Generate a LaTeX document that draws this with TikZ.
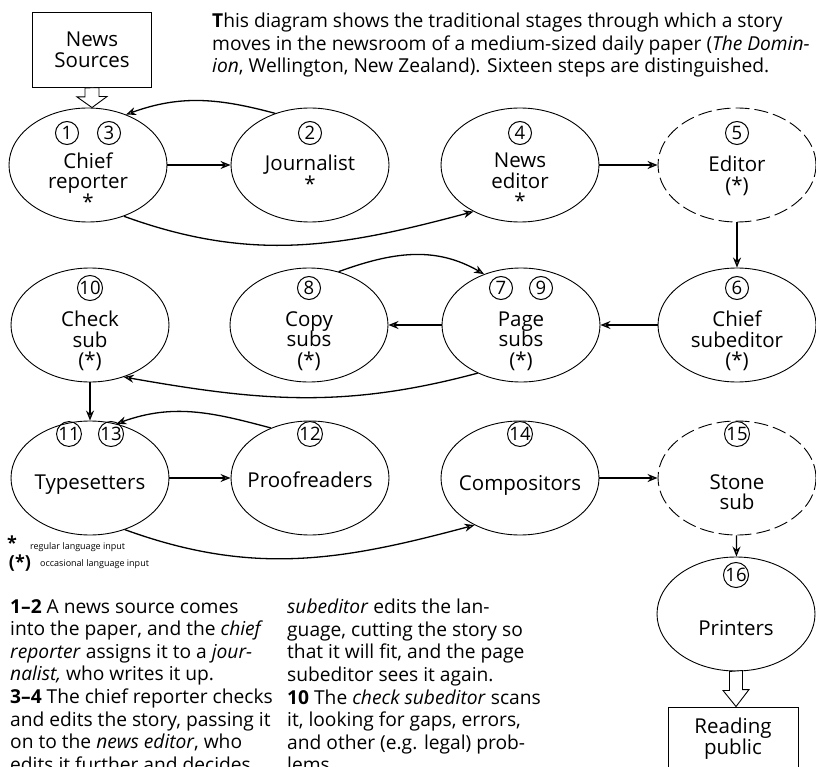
\documentclass[tikz,border=0pt]{standalone}
\usepackage{fontspec}
\setmainfont{Open Sans}
\usetikzlibrary{arrows.meta,shapes.geometric,calc}
\tikzset{
  stage/.style={draw, ellipse, line width=0.9pt, minimum width=158pt, minimum height=114pt, inner sep=0pt},
  stagedash/.style={stage, dash pattern=on 14pt off 5pt},
  num/.style={draw, circle, line width=1pt, minimum size=23pt, inner sep=0pt, font=\fontsize{18.5}{18.5}\selectfont},
  lbl/.style={align=center, inner sep=0pt, font=\fontsize{20.5}{20.5}\selectfont},
  flow/.style={line width=1.3pt, -{Stealth[open,length=10pt,width=8pt]}},
  boxed/.style={draw, line width=0.9pt, minimum width=119pt, minimum height=75pt, align=center, font=\fontsize{20.5}{21}\selectfont},
  hollow/.style={draw, line width=0.9pt, fill=white, line join=miter},
  para/.style={align=left, anchor=north west, inner sep=0pt, font=\fontsize{19.2}{22.6}\selectfont},
  keytext/.style={anchor=west, inner sep=0pt, font=\fontsize{9}{9}\selectfont},
}

\begin{document}
\begin{tikzpicture}[x=1pt, y=-1pt]
\useasboundingbox (0,0) rectangle (816,767);
\clip (0,0) rectangle (816,767);

% heading text
\node[para] (intro) at (212,13) {\textbf{T}his diagram shows the traditional stages through which a story\\
moves in the newsroom of a medium-sized daily paper (\textit{The Domin-}\\
\textit{ion}, Wellington, New Zealand). Sixteen steps are distinguished.};

% stages, row by row
\node[stage] (cr) at (88,165) {};
\node[stage] (jo) at (310,165) {};
\node[stage] (ne) at (520,165) {};
\node[stagedash] (ed) at (737,165) {};

\node[stage] (cs) at (90,325) {};
\node[stage] (cp) at (309,325) {};
\node[stage] (ps) at (521,325) {};
\node[stage] (csub) at (737,325) {};

\node[stage] (ty) at (90,478) {};
\node[stage] (pr) at (310,478) {};
\node[stage] (co) at (520,478) {};
\node[stagedash] (st) at (737,478) {};

\node[stage] (pt) at (736,614) {};

% names
\node[lbl] (crt) at ($(cr)+(0,16)$) {Chief\\reporter\\*};
\node[lbl] (jot) at ($(jo)+(0,8)$) {Journalist\\*};
\node[lbl] (net) at ($(ne)+(0,16)$) {News\\editor\\*};
\node[lbl] (edt) at ($(ed)+(0,11)$) {Editor\\(*)};
\node[lbl] (cst) at ($(cs)+(0,16)$) {Check\\sub\\(*)};
\node[lbl] (cpt) at ($(cp)+(0,16)$) {Copy\\subs\\(*)};
\node[lbl] (pst) at ($(ps)+(0,16)$) {Page\\subs\\(*)};
\node[lbl] (csubt) at ($(csub)+(0,16)$) {Chief\\subeditor\\(*)};
\node[lbl] (tyt) at ($(ty)+(0,7)$) {Typesetters};
\node[lbl] (prt) at ($(pr)+(0,2)$) {Proofreaders};
\node[lbl] (cot) at ($(co)+(0,7)$) {Compositors};
\node[lbl] (stt) at ($(st)+(0,14)$) {Stone\\sub};
\node[lbl] (ptt) at ($(pt)+(0,14)$) {Printers};

% step numbers
\node[num] (n1) at ($(cr)+(-21,-32)$) {1};
\node[num] (n3) at ($(cr)+(21,-32)$) {3};
\node[num] (n2) at ($(jo)+(0,-32)$) {2};
\node[num] (n4) at ($(ne)+(0,-32)$) {4};
\node[num] (n5) at ($(ed)+(0,-32)$) {5};
\node[num] (n10) at ($(cs)+(0,-37)$) {10};
\node[num] (n8) at ($(cp)+(0,-37)$) {8};
\node[num] (n7) at ($(ps)+(-20,-37)$) {7};
\node[num] (n9) at ($(ps)+(20,-37)$) {9};
\node[num] (n6) at ($(csub)+(0,-37)$) {6};
\node[num] (n11) at ($(ty)+(-21,-44)$) {11};
\node[num] (n13) at ($(ty)+(21,-44)$) {13};
\node[num] (n12) at ($(pr)+(0,-44)$) {12};
\node[num] (n14) at ($(co)+(0,-44)$) {14};
\node[num] (n15) at ($(st)+(0,-44)$) {15};
\node[num] (n16) at ($(pt)+(0,-39)$) {16};

% boxes at both ends
\node[boxed] (src) at (92,50) {News\\Sources};
\node[boxed, minimum width=130pt, minimum height=64pt] (rd) at (733,739) {Reading\\public};

\draw[hollow] (src.south) ++(-7,0) -- ++(0,9) -- ++(-8,0) -- (src.south |- cr.north)
  -- ++(15,-11) -- ++(-8,0) -- ++(0,-9) -- cycle;
\draw[hollow] (pt.south) ++(-6.5,0) -- ++(0,19) -- ++(-6.5,0) -- (pt.south |- rd.north)
  -- ++(13,-17) -- ++(-6.5,0) -- ++(0,-19) -- cycle;

% straight moves
\draw[flow] (cr) -- (jo);
\draw[flow] (ne) -- (ed);
\draw[flow] (ed) -- (csub);
\draw[flow] (csub) -- (ps);
\draw[flow] (ps) -- (cp);
\draw[flow] (cs) -- (ty);
\draw[flow] (ty) -- (pr);
\draw[flow] (co) -- (st);
\draw[flow] (st) -- (pt);

% curved moves
\draw[flow] (jo.124) to[out=165, in=20] (cr.53);
\draw[flow] (cr.-55) to[out=-20, in=195] (ne.225);
\draw[flow] (cp.61) to[out=20, in=150] (ps.126);
\draw[flow] (ps.228) to[out=195, in=-10] (cs.-57);
\draw[flow] (pr.128) to[out=165, in=20] (ty.64);
\draw[flow] (ty.-56) to[out=-20, in=195] (co.226);

% key
\node[inner sep=0pt, font=\fontsize{18}{18}\bfseries\selectfont] (k1) at (12,543) {*};
\node[keytext] (k1t) at (30,547) {regular language input};
\node[inner sep=0pt, font=\fontsize{18}{18}\bfseries\selectfont] (k2) at (20,563) {(*)};
\node[keytext] (k2t) at (40,564) {occasional language input};

% running text
\node[para] (colA) at (10,599) {\textbf{1–2} A news source comes\\
into the paper, and the \textit{chief}\\
\textit{reporter} assigns it to a \textit{jour-}\\
\textit{nalist,} who writes it up.\\
\textbf{3–4} The chief reporter checks\\
and edits the story, passing it\\
on to the \textit{news editor}, who\\
edits it further and decides};
\node[para] (colB) at (287,599) {\textit{subeditor} edits the lan-\\
guage, cutting the story so\\
that it will fit, and the page\\
subeditor sees it again.\\
\textbf{10} The \textit{check subeditor} scans\\
it, looking for gaps, errors,\\
and other (e.g. legal) prob-\\
lems.};
\end{tikzpicture}
\end{document}
